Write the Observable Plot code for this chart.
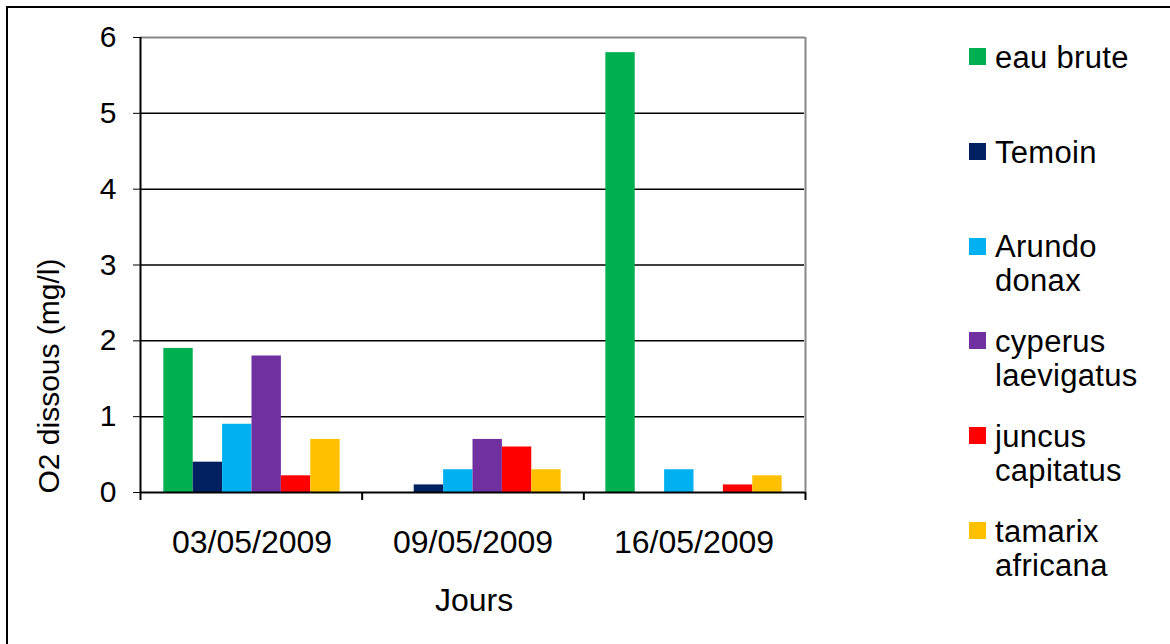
<!DOCTYPE html>
<html>
<head>
<meta charset="utf-8">
<script src="https://cdn.jsdelivr.net/npm/d3@7"></script>
<script src="https://cdn.jsdelivr.net/npm/@observablehq/plot@0.6"></script>
<style>
  html, body { margin: 0; padding: 0; background: #fff; }
  #chart { position: relative; width: 1170px; height: 644px; overflow: hidden; background: #fff;
           font-family: "Liberation Sans", Arial, sans-serif; color: #000; }
  #chart svg { position: absolute; left: 0; top: 0; overflow: visible; }
  #chart g[aria-label^="fx-axis"] text { font-size: 32px; }
  .frame { position: absolute; left: 6px; top: 6px; width: 1300px; height: 800px;
           border-left: 2px solid #000; border-top: 2px solid #000; }
  .ytitle { position: absolute; left: 49px; top: 376px; font-size: 30px; line-height: 30px;
            white-space: nowrap; transform: translate(-50%, -50%) rotate(-90deg); }
  .xtitle { position: absolute; left: 474px; top: 600px; font-size: 32px; line-height: 32px;
            white-space: nowrap; transform: translate(-50%, -50%); }
  .lg-sw { position: absolute; width: 17px; height: 17px; }
  .lg-tx { position: absolute; font-size: 31px; line-height: 34px; white-space: nowrap; letter-spacing: 0.3px; }
</style>
</head>
<body>
<div id="chart"><div class="frame"></div></div>
<script>
// ---- data ----
const dates = ["03/05/2009", "09/05/2009", "16/05/2009"];
const seriesNames = ["eau brute", "Temoin", "Arundo donax", "cyperus laevigatus", "juncus capitatus", "tamarix africana"];
const legendLines = [["eau brute"], ["Temoin"], ["Arundo", "donax"], ["cyperus", "laevigatus"], ["juncus", "capitatus"], ["tamarix", "africana"]];
const seriesColors = ["#00B050", "#002060", "#00B0F0", "#7030A0", "#FF0000", "#FFC000"];
const eauBrute = [1.9, 0, 5.8];
const temoin   = [0.4, 0.1, 0];
const arundo   = [0.9, 0.3, 0.3];
const cyperus  = [1.8, 0.7, 0];
const juncus   = [0.22, 0.6, 0.1];
const tamarix  = [0.7, 0.3, 0.22];
const yTicks = [0, 1, 2, 3, 4, 5, 6];
const yTitle = "O2 dissous (mg/l)";
const xTitle = "Jours";

const seriesValues = [eauBrute, temoin, arundo, cyperus, juncus, tamarix];
const rows = [];
dates.forEach((d, i) => seriesNames.forEach((s, j) => rows.push({date: d, series: s, value: seriesValues[j][i]})));

const W = 1170, H = 644;
const M = {top: 37, right: 365, bottom: 152, left: 140};

const main = Plot.plot({
  width: W, height: H,
  marginTop: M.top, marginRight: M.right, marginBottom: M.bottom, marginLeft: M.left,
  style: {fontFamily: "'Liberation Sans', Arial, sans-serif", fontSize: "30px", background: "transparent", color: "#000"},
  fx: {domain: dates, padding: 0, paddingInner: 0, paddingOuter: 0, label: null, axis: "bottom", tickSize: 0, tickPadding: 38},
  x: {domain: seriesNames, paddingInner: 0, paddingOuter: 0.76, axis: null, round: false},
  y: {domain: [0, 6], ticks: yTicks, tickSize: 8, tickPadding: 17, label: null, tickFormat: d3.format("d")},
  color: {domain: seriesNames, range: seriesColors},
  facet: {data: rows, x: "date", marginBottom: 0},
  marks: [
    Plot.ruleY([1, 2, 3, 4, 5], {stroke: "#000", strokeWidth: 1.5}),
    Plot.barY(rows, {x: "series", y: "value", fill: "series", inset: 0})
  ]
});
main.style.zIndex = 1;

const overlay = Plot.plot({
  width: W, height: H,
  marginTop: M.top, marginRight: M.right, marginBottom: M.bottom, marginLeft: M.left,
  style: {background: "transparent"},
  x: {type: "linear", domain: [0, dates.length], axis: null},
  y: {domain: [0, 6], axis: null},
  marks: [
    Plot.ruleY([6], {stroke: "#888", strokeWidth: 2}),
    Plot.ruleX([dates.length], {y1: 0, y2: 6, stroke: "#888", strokeWidth: 2}),
    Plot.ruleX([0], {y1: 0, y2: 6, stroke: "#000", strokeWidth: 2}),
    Plot.ruleY([0], {stroke: "#000", strokeWidth: 2}),
    Plot.ruleX(d3.range(dates.length + 1), {y1: 0, y2: -0.105, stroke: "#000", strokeWidth: 2})
  ]
});
overlay.style.zIndex = 2;
overlay.style.pointerEvents = "none";

const chart = document.getElementById("chart");
chart.appendChild(main);
chart.appendChild(overlay);

// axis titles
const yt = document.createElement("div"); yt.className = "ytitle"; yt.textContent = yTitle; chart.appendChild(yt);
const xt = document.createElement("div"); xt.className = "xtitle"; xt.textContent = xTitle; chart.appendChild(xt);

// legend
const lgTop = 48, lgStep = 94.8;
legendLines.forEach((lines, i) => {
  const top = lgTop + i * lgStep;
  const sw = document.createElement("div");
  sw.className = "lg-sw";
  sw.style.left = "969px"; sw.style.top = top + "px"; sw.style.background = seriesColors[i];
  chart.appendChild(sw);
  const tx = document.createElement("div");
  tx.className = "lg-tx";
  tx.style.left = "995px"; tx.style.top = (top - 7.3) + "px";
  tx.innerHTML = lines.join("<br>");
  chart.appendChild(tx);
});
</script>
</body>
</html>
